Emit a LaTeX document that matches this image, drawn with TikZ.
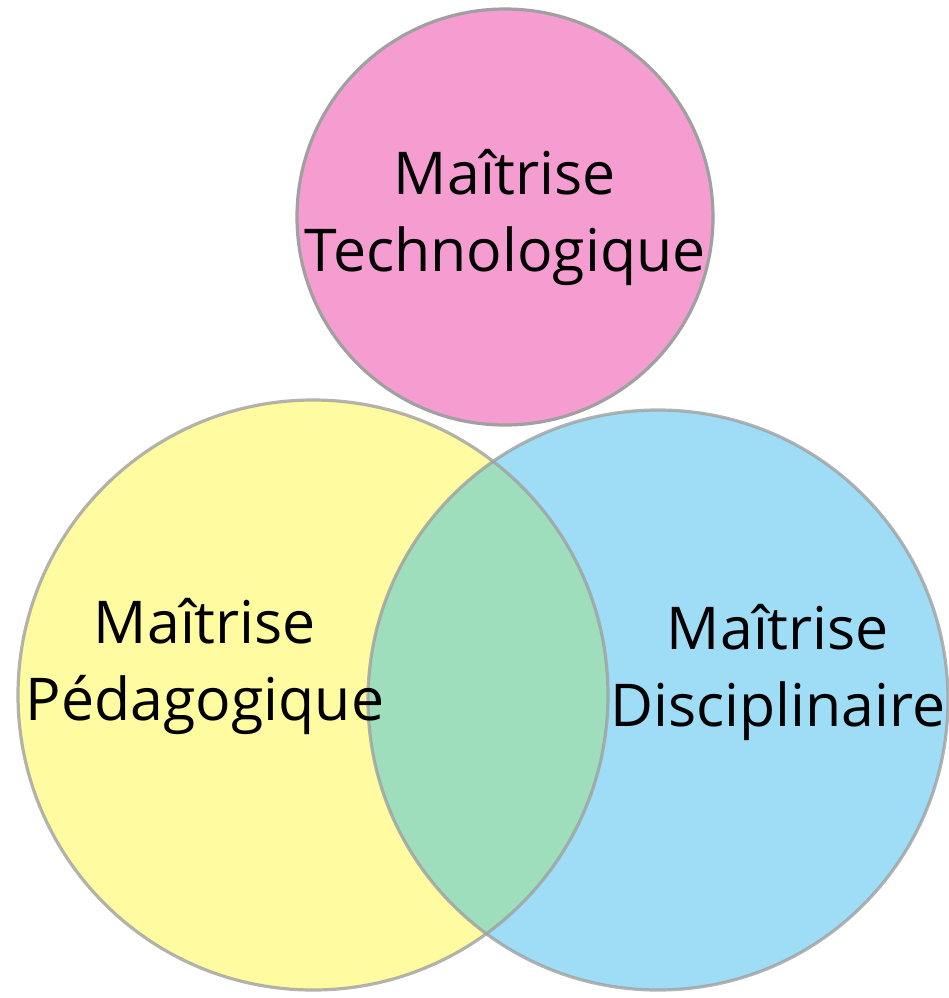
\documentclass[tikz,border=0pt]{standalone}
\usepackage{fontspec}
\setmainfont{Open Sans}
\definecolor{rose}{RGB}{245,157,209}
\definecolor{jaune}{RGB}{255,251,160}
\definecolor{bleu}{RGB}{158,221,245}
\definecolor{vert}{RGB}{158,222,188}
\definecolor{bord}{RGB}{160,160,160}
\tikzset{
    cercle/.style={draw=bord, line width=1.6pt},
    titre/.style={align=center, font=\fontsize{29.5}{38.5}\selectfont}
}
\begin{document}
\begin{tikzpicture}[x=0.5pt,y=-0.5pt]
\useasboundingbox (0,0) rectangle (949,998);
\draw[cercle, fill=rose](505,217)circle (208);
\fill[jaune](313,695)circle (295);
\fill[bleu](658,700)circle (290);
\begin{scope}
    \clip (313,695)circle (295);
    \fill[vert](658,700)circle (290);
\end{scope}
\draw[cercle, draw opacity=.8](313,695)circle (295);
\draw[cercle, draw opacity=.8](658,700)circle (290);
\node[titre] (tech) at (505,217) {Maîtrise\\Technologique};
\node[titre] (peda) at (205,666) {Maîtrise\\Pédagogique};
\node[titre] (disc) at (778,672) {Maîtrise\\Disciplinaire};
\end{tikzpicture}
\end{document}
